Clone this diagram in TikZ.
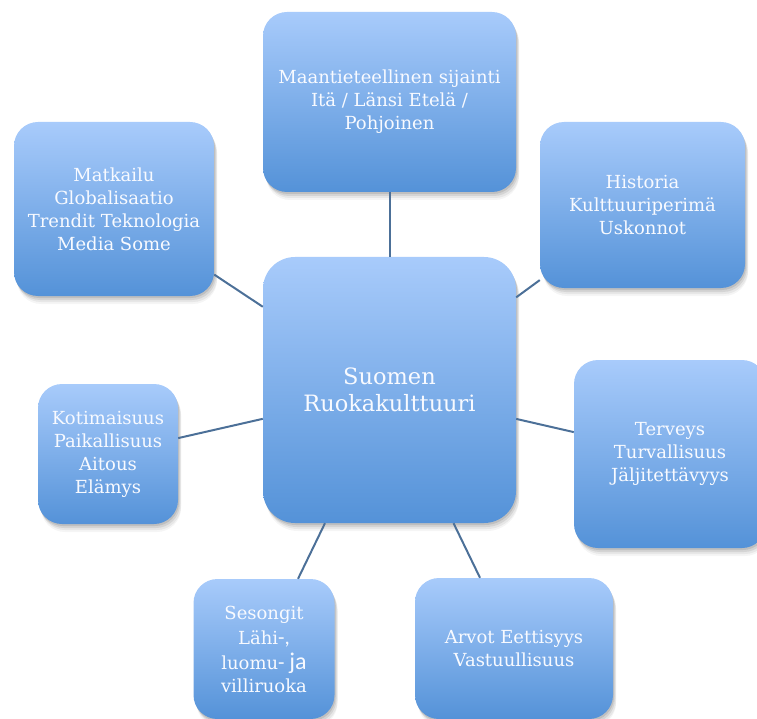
\documentclass[tikz,border=0pt]{standalone}
\usepackage{fontspec}
\setmainfont{DejaVu Serif}
\newfontfamily\sansja{Carlito}
\usetikzlibrary{shadows}
\definecolor{boxtop}{RGB}{168,203,251}
\definecolor{boxbottom}{RGB}{84,146,216}
\definecolor{linkcol}{RGB}{76,112,152}
\definecolor{boxtext}{RGB}{248,250,255}
\tikzset{
  softshadow/.style={
    drop shadow={shadow xshift=1pt, shadow yshift=-2pt, opacity=0.10, fill=black},
    drop shadow={shadow xshift=2pt, shadow yshift=-4pt, opacity=0.08, fill=black},
    drop shadow={shadow xshift=3pt, shadow yshift=-6pt, opacity=0.06, fill=black},
    drop shadow={shadow xshift=3pt, shadow yshift=-8pt, opacity=0.04, fill=black}},
  topic/.style={draw=none, rounded corners=24pt, top color=boxtop, bottom color=boxbottom,
    text=boxtext, align=center, inner sep=0pt,
    font=\fontsize{18}{23}\selectfont, softshadow},
  hub/.style={topic, rounded corners=32pt, font=\fontsize{22.5}{27}\selectfont},
  link/.style={draw=linkcol, line width=2pt}
}
\begin{document}
\begin{tikzpicture}[x=1pt, y=-1pt]
\useasboundingbox (0,0) rectangle (757,719);
\node[hub, minimum width=253pt, minimum height=266pt] (hub) at (389.5,390) {Suomen\\Ruokakulttuuri};
\node[topic, minimum width=253pt, minimum height=180pt] (geo) at (389.5,102) {Maantieteellinen sijainti\\Itä / Länsi Etelä /\\Pohjoinen};
\node[topic, minimum width=205pt, minimum height=166pt] (hist) at (642.5,205) {Historia\\Kulttuuriperimä\\Uskonnot};
\node[topic, minimum width=192pt, minimum height=188pt] (health) at (670,454) {Terveys\\Turvallisuus\\Jäljitettävyys};
\node[topic, minimum width=198pt, minimum height=141pt] (values) at (514,648.5) {Arvot Eettisyys\\Vastuullisuus};
\node[topic, minimum width=141pt, minimum height=140pt] (season) at (264,649)
  {Sesongit\\[2pt]Lähi{\sansja\fontsize{21}{23}\selectfont -,}\\[2pt]luomu{\sansja\fontsize{21}{23}\selectfont - \fontsize{24}{23}\selectfont ja}\\villiruoka};
\node[topic, minimum width=140pt, minimum height=140pt] (local) at (108,454) {Kotimaisuus\\Paikallisuus\\Aitous\\Elämys};
\node[topic, minimum width=200pt, minimum height=174pt] (global) at (114,209) {Matkailu\\Globalisaatio\\Trendit Teknologia\\Media Some};
\foreach \n in {geo,hist,health,values,season,local,global}
  \draw[link] (hub) -- (\n);
\end{tikzpicture}
\end{document}
